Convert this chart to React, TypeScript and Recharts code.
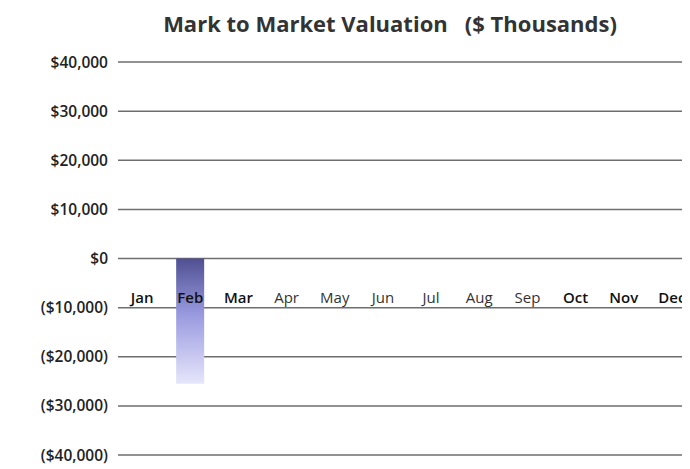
import { BarChart, Bar, XAxis, YAxis, CartesianGrid } from 'recharts'

const months = ['Jan', 'Feb', 'Mar', 'Apr', 'May', 'Jun', 'Jul', 'Aug', 'Sep', 'Oct', 'Nov', 'Dec']
const valuation = [0, -25500, 0, 0, 0, 0, 0, 0, 0, 0, 0, 0]
const yTicks = [-40000, -30000, -20000, -10000, 0, 10000, 20000, 30000, 40000]
const darkMonths = ['Jan', 'Feb', 'Mar', 'Oct', 'Nov', 'Dec']

const data = months.map((m, i) => ({ month: m, value: valuation[i] }))

const fmt = (v: number) => {
  const s = '$' + Math.abs(v).toLocaleString('en-US')
  return v < 0 ? '(' + s + ')' : s
}

const font = '"Open Sans", "Noto Sans", sans-serif'

// month labels sit just below the zero line, like the original sheet
function MonthTick(props: any) {
  const { x, y, payload } = props
  const bold = darkMonths.includes(payload.value)
  return (
    <text
      x={x}
      y={y - 160}
      textAnchor="middle"
      fontFamily={font}
      fontSize={15}
      fontWeight={bold ? 600 : 400}
      fill={bold ? '#111' : '#333'}
    >
      {payload.value}
    </text>
  )
}

export default function App() {
  return (
    <div style={{ position: 'relative', width: 682, height: 461, overflow: 'hidden', background: '#fff' }}>
      <div
        style={{
          position: 'absolute',
          top: 0,
          left: 0,
          width: 764,
          textAlign: 'center',
          fontFamily: font,
          fontWeight: 700,
          fontSize: 22,
          color: '#333',
          whiteSpace: 'pre',
        }}
      >
        {'Mark to Market Valuation   ($ Thousands)'}
      </div>
      <BarChart
        width={688}
        height={461}
        data={data}
        margin={{ top: 54, right: 0, bottom: 0, left: 0 }}
        barSize={28}
      >
        <defs>
          <linearGradient id="barFill" x1="0" y1="0" x2="0" y2="1">
            <stop offset="0%" stopColor="#4f4f92" />
            <stop offset="45%" stopColor="#9a9ae0" />
            <stop offset="100%" stopColor="#e6e6fb" />
          </linearGradient>
        </defs>
        <CartesianGrid vertical={false} stroke="#6e6e6e" strokeWidth={1.5} />
        <XAxis
          dataKey="month"
          axisLine={false}
          tickLine={false}
          height={14}
          interval={0}
          tick={<MonthTick />}
        />
        <YAxis
          domain={[-40000, 40000]}
          ticks={yTicks}
          tickFormatter={fmt}
          axisLine={false}
          tickLine={false}
          width={110}
          tickMargin={4}
          tick={{ fontFamily: font, fontSize: 15.5, fontWeight: 600, fill: '#222' }}
        />
        <Bar dataKey="value" fill="url(#barFill)" isAnimationActive={false} />
      </BarChart>
    </div>
  )
}
